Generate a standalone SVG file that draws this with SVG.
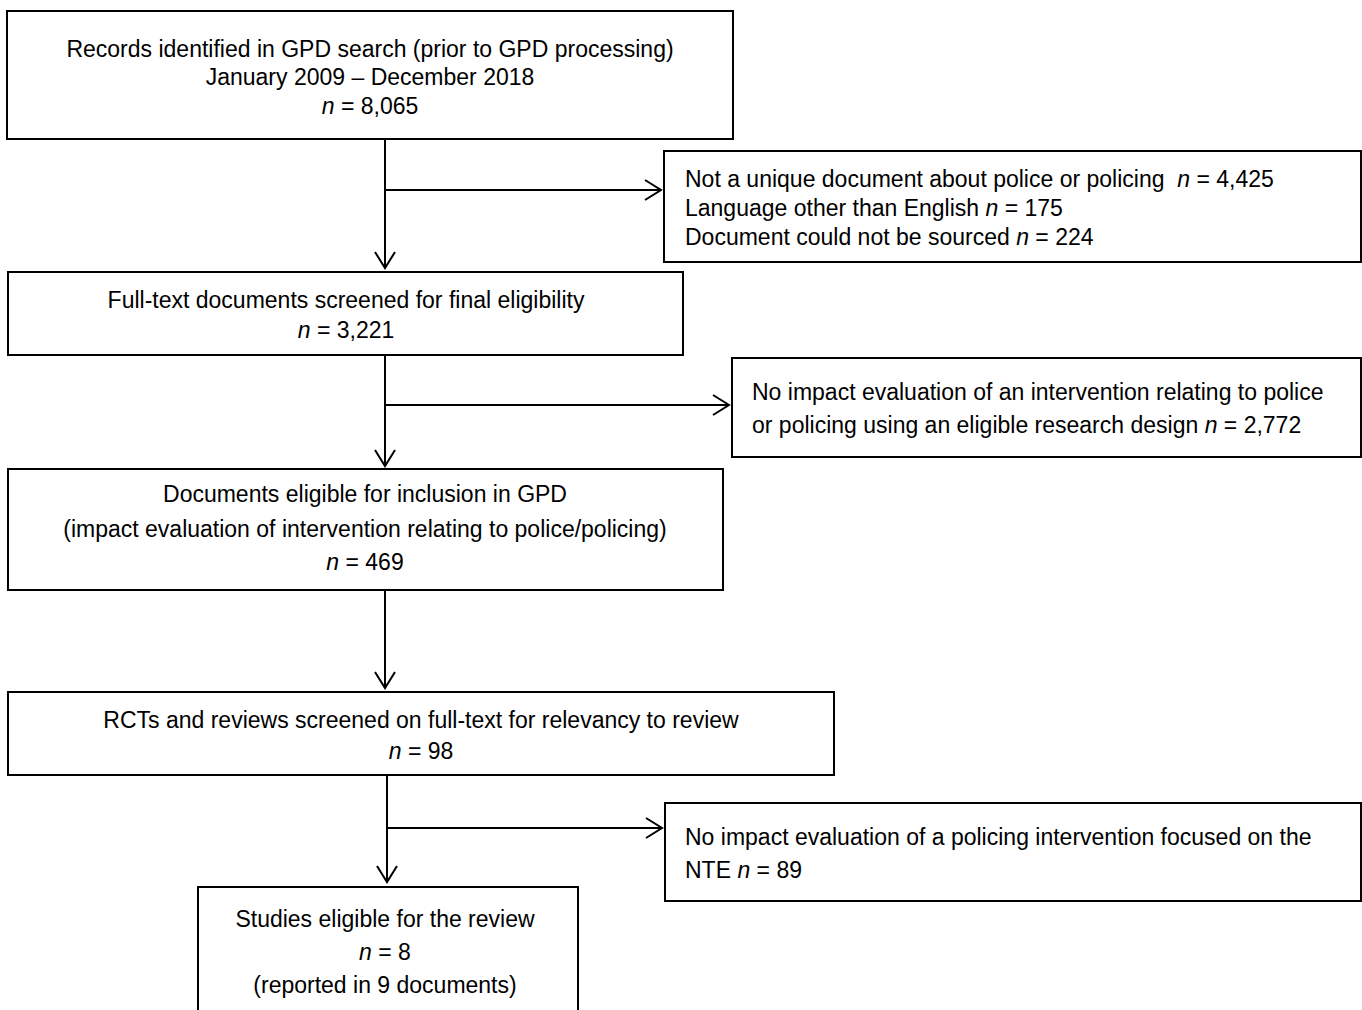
<svg xmlns="http://www.w3.org/2000/svg" width="1362" height="1010" viewBox="0 0 1362 1010">
<style>
.box{fill:#fff;stroke:#000;stroke-width:2}
.t{font-family:"Liberation Sans",Arial,sans-serif;font-size:23px;fill:#000}
.c{text-anchor:middle}
.i{font-style:italic}
.ln{fill:none;stroke:#000;stroke-width:2}
</style>
<defs>
<marker id="ah" markerUnits="userSpaceOnUse" markerWidth="24" markerHeight="24" viewBox="-20 -12 24 24" refX="0" refY="0" orient="auto">
<path d="M-16,-10 L0,0 L-16,10" fill="none" stroke="#000" stroke-width="2"/>
</marker>
</defs>
<rect width="1362" height="1010" fill="#fff"/>
<g id="connectors">
<line class="ln" x1="385" y1="139" x2="385" y2="268" marker-end="url(#ah)"/>
<line class="ln" x1="385" y1="190" x2="661" y2="190" marker-end="url(#ah)"/>
<line class="ln" x1="385" y1="355" x2="385" y2="466" marker-end="url(#ah)"/>
<line class="ln" x1="385" y1="405" x2="729" y2="405" marker-end="url(#ah)"/>
<line class="ln" x1="385" y1="590" x2="385" y2="688" marker-end="url(#ah)"/>
<line class="ln" x1="387" y1="775" x2="387" y2="882" marker-end="url(#ah)"/>
<line class="ln" x1="387" y1="828" x2="662" y2="828" marker-end="url(#ah)"/>
</g>
<g id="n1">
<rect class="box" x="7" y="11" width="726" height="128"/>
<text class="t c" x="370" y="57">Records identified in GPD search (prior to GPD processing)</text>
<text class="t c" x="370" y="85">January 2009 – December 2018</text>
<text class="t c" x="370" y="114"><tspan class="i">n</tspan> = 8,065</text>
</g>
<g id="x1">
<rect class="box" x="664" y="151" width="697" height="111"/>
<text class="t" x="685" y="187" xml:space="preserve">Not a unique document about police or policing  <tspan class="i">n</tspan> = 4,425</text>
<text class="t" x="685" y="216">Language other than English <tspan class="i">n</tspan> = 175</text>
<text class="t" x="685" y="245">Document could not be sourced <tspan class="i">n</tspan> = 224</text>
</g>
<g id="n2">
<rect class="box" x="8" y="272" width="675" height="83"/>
<text class="t c" x="346" y="308">Full-text documents screened for final eligibility</text>
<text class="t c" x="346" y="338"><tspan class="i">n</tspan> = 3,221</text>
</g>
<g id="x2">
<rect class="box" x="732" y="358" width="629" height="99"/>
<text class="t" x="752" y="400">No impact evaluation of an intervention relating to police</text>
<text class="t" x="752" y="433">or policing using an eligible research design <tspan class="i">n</tspan> = 2,772</text>
</g>
<g id="n3">
<rect class="box" x="8" y="469" width="715" height="121"/>
<text class="t c" x="365" y="502">Documents eligible for inclusion in GPD</text>
<text class="t c" x="365" y="537">(impact evaluation of intervention relating to police/policing)</text>
<text class="t c" x="365" y="570"><tspan class="i">n</tspan> = 469</text>
</g>
<g id="n4">
<rect class="box" x="8" y="692" width="826" height="83"/>
<text class="t c" x="421" y="728">RCTs and reviews screened on full-text for relevancy to review</text>
<text class="t c" x="421" y="759"><tspan class="i">n</tspan> = 98</text>
</g>
<g id="x3">
<rect class="box" x="665" y="803" width="696" height="98"/>
<text class="t" x="685" y="845">No impact evaluation of a policing intervention focused on the</text>
<text class="t" x="685" y="878">NTE <tspan class="i">n</tspan> = 89</text>
</g>
<g id="n5">
<rect class="box" x="198" y="887" width="380" height="130"/>
<text class="t c" x="385" y="927">Studies eligible for the review</text>
<text class="t c" x="385" y="960"><tspan class="i">n</tspan> = 8</text>
<text class="t c" x="385" y="993">(reported in 9 documents)</text>
</g>
</svg>
